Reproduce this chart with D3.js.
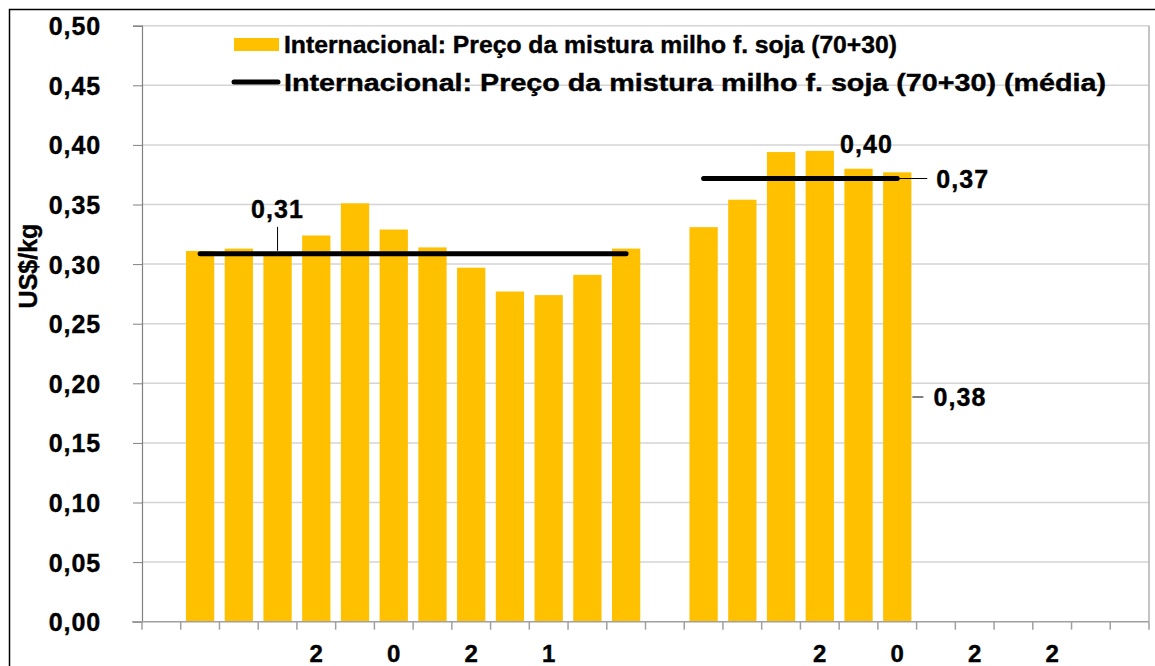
<!DOCTYPE html>
<html><head><meta charset="utf-8">
<script src="https://cdn.jsdelivr.net/npm/d3@7"></script>
<style>body{margin:0;background:#fff}svg{display:block}text{font-family:"Liberation Sans",Arial,sans-serif;font-weight:bold;fill:#000;stroke:#000;stroke-width:0.4px}</style>
</head><body>
<script>
// ---- data ----
const categoryLabels = ["", "", "", "", "2", "", "0", "", "2", "", "1", "", "", "", "", "", "", "2", "", "0", "", "2", "", "2", "", ""];
const priceValues = [null, 0.311, 0.313, 0.310, 0.324, 0.351, 0.329, 0.314, 0.297, 0.277, 0.274, 0.291, 0.313, null, 0.331, 0.354, 0.394, 0.395, 0.380, 0.377, null, null, null, null, null, null];
const meanValues = [null, 0.3086, 0.3086, 0.3086, 0.3086, 0.3086, 0.3086, 0.3086, 0.3086, 0.3086, 0.3086, 0.3086, 0.3086, null, 0.3718, 0.3718, 0.3718, 0.3718, 0.3718, 0.3718, null, null, null, null, null, null];
const yTicks = [0, 0.05, 0.10, 0.15, 0.20, 0.25, 0.30, 0.35, 0.40, 0.45, 0.50];
const seriesNames = ["Internacional: Preço da mistura milho f. soja (70+30)", "Internacional: Preço da mistura milho f. soja (70+30) (média)"];
const yTitle = "US$/kg";

const W = 1155, H = 666;
const m = {left: 142, right: 1149, top: 25.7, bottom: 621.7};
const fmt = v => d3.format(".2f")(v).replace(".", ",");

const svg = d3.select("body").append("svg").attr("width", W).attr("height", H);
svg.append("rect").attr("width", W).attr("height", H).attr("fill", "#fff");

// outer frame (extends past image on right/bottom)
svg.append("path").attr("d", `M9.5,${H+5}V9.5H${W+5}`).attr("fill", "none").attr("stroke", "#000").attr("stroke-width", 1.5);

const idx = d3.range(categoryLabels.length);
const x = d3.scaleBand().domain(idx).range([m.left, m.right]).paddingInner(0.27).paddingOuter(0.135);
const y = d3.scaleLinear().domain([0, 0.5]).range([m.bottom, m.top]);
const cx = i => x(i) + x.bandwidth() / 2;

// gridlines
svg.append("g").selectAll("line").data(yTicks.filter(d => d > 0)).join("line")
  .attr("x1", m.left).attr("x2", m.right).attr("y1", d => y(d)).attr("y2", d => y(d))
  .attr("stroke", "#d4d4d4").attr("stroke-width", 1.5);
// right border
svg.append("line").attr("x1", m.right).attr("x2", m.right).attr("y1", m.top).attr("y2", m.bottom).attr("stroke", "#b0b0b0").attr("stroke-width", 1.5);

// y axis
const yAxis = svg.append("g").attr("transform", `translate(${m.left},0)`)
  .call(d3.axisLeft(y).tickValues(yTicks).tickFormat(fmt).tickSize(9).tickPadding(32));
yAxis.select(".domain").attr("stroke", "#808080").attr("stroke-width", 1.2);
yAxis.selectAll(".tick line").attr("stroke", "#808080");
yAxis.selectAll("text").style("font-size", "25px").style("letter-spacing", "0.9px").attr("dy", "0.36em").attr("fill", "#000");

// bars
svg.append("g").selectAll("rect").data(idx.filter(i => priceValues[i] != null)).join("rect")
  .attr("x", i => x(i)).attr("width", x.bandwidth())
  .attr("y", i => y(priceValues[i])).attr("height", i => y(0) - y(priceValues[i]))
  .attr("fill", "#FFC000");

// x axis
const boundaries = d3.range(categoryLabels.length + 1).map(k => m.left + k * x.step());
const xAxisG = svg.append("g");
xAxisG.append("line").attr("x1", m.left - 10).attr("x2", m.right).attr("y1", y(0)).attr("y2", y(0)).attr("stroke", "#a0a0a0").attr("stroke-width", 1.5);
xAxisG.selectAll(".tk").data(boundaries).join("line").attr("class", "tk")
  .attr("x1", d => d).attr("x2", d => d).attr("y1", y(0)).attr("y2", y(0) + 8).attr("stroke", "#a0a0a0").attr("stroke-width", 1.5);
xAxisG.selectAll("text").data(idx.filter(i => categoryLabels[i] !== "")).join("text")
  .attr("x", i => cx(i)).attr("y", y(0) + 40).attr("text-anchor", "middle").style("font-size", "24px")
  .text(i => categoryLabels[i]);

// mean line
const line = d3.line().defined(i => meanValues[i] != null).x(i => cx(i)).y(i => y(meanValues[i]));
svg.append("path").datum(idx).attr("d", line).attr("fill", "none").attr("stroke", "#000")
  .attr("stroke-width", 5).attr("stroke-linecap", "round");

// annotations
const ann = svg.append("g").style("font-size", "25px").style("letter-spacing", "1.1px");
ann.append("line").attr("x1", cx(3)).attr("x2", cx(3)).attr("y1", y(meanValues[3]) - 3).attr("y2", y(meanValues[3]) - 27).attr("stroke", "#000").attr("stroke-width", 1);
ann.append("text").attr("x", cx(3)).attr("y", y(meanValues[3]) - 36).attr("text-anchor", "middle").text(fmt(meanValues[3]));
ann.append("text").attr("x", cx(18) + 8).attr("y", y(0.40) + 8).attr("text-anchor", "middle").text(fmt(d3.max(priceValues)));
ann.append("line").attr("x1", cx(19) + 2).attr("x2", cx(19) + 30).attr("y1", y(meanValues[19])).attr("y2", y(meanValues[19])).attr("stroke", "#000").attr("stroke-width", 1);
ann.append("text").attr("x", cx(19) + 39).attr("y", y(meanValues[19])).attr("dy", "0.36em").text(fmt(meanValues[19]));
ann.append("line").attr("x1", x(19) + x.bandwidth() + 1).attr("x2", x(19) + x.bandwidth() + 12).attr("y1", y(priceValues[19] / 2)).attr("y2", y(priceValues[19] / 2)).attr("stroke", "#000").attr("stroke-width", 1);
ann.append("text").attr("x", x(19) + x.bandwidth() + 22).attr("y", y(priceValues[19] / 2)).attr("dy", "0.36em").text(fmt(priceValues[19]));

// y title
svg.append("text").attr("transform", `translate(37,266) rotate(-90)`).attr("text-anchor", "middle").style("font-size", "25px").text(yTitle);

// legend
const lg = svg.append("g");
lg.append("rect").attr("x", 234).attr("y", 38).attr("width", 45).attr("height", 13).attr("fill", "#FFC000");
lg.append("text").attr("x", 284).attr("y", 44).attr("dy", "0.36em").style("font-size", "24.5px")
  .attr("textLength", 613).attr("lengthAdjust", "spacingAndGlyphs").text(seriesNames[0]);
lg.append("line").attr("x1", 234).attr("x2", 278).attr("y1", 82).attr("y2", 82).attr("stroke", "#000").attr("stroke-width", 5).attr("stroke-linecap", "round");
lg.append("text").attr("x", 284).attr("y", 82).attr("dy", "0.36em").style("font-size", "24.5px")
  .attr("textLength", 822).attr("lengthAdjust", "spacingAndGlyphs").text(seriesNames[1]);
</script>
</body></html>
